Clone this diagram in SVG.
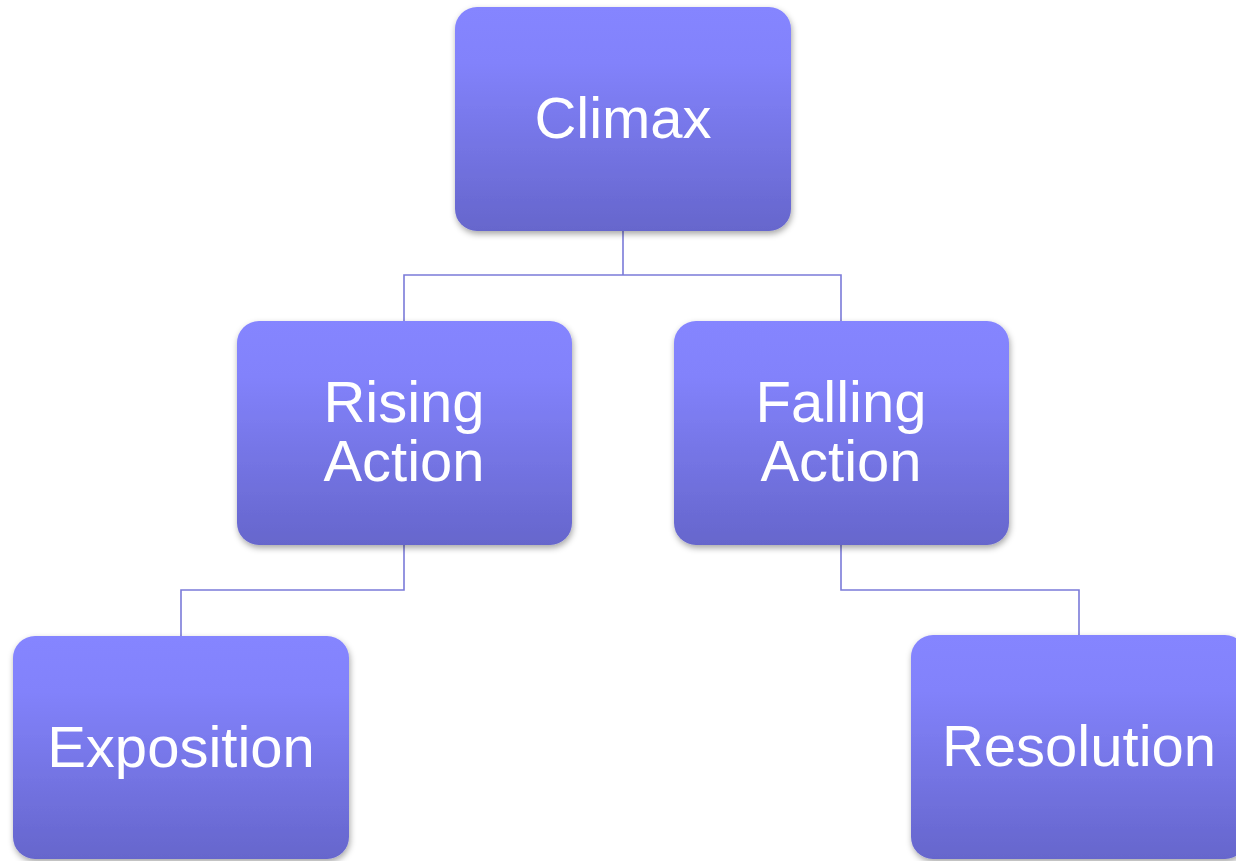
<svg xmlns="http://www.w3.org/2000/svg" width="1236" height="861" viewBox="0 0 1236 861">
<style>
.box{fill:url(#g);filter:url(#sh)}
.lbl{font-family:"Liberation Sans",Arial,sans-serif;font-size:58px;fill:#ffffff;text-anchor:middle}
.conn{fill:none;stroke:#7b7bd9;stroke-width:1.6}
</style>
<defs>
<linearGradient id="g" x1="0" y1="0" x2="0" y2="1">
<stop offset="0" stop-color="#8585ff"/>
<stop offset="0.25" stop-color="#8282fb"/>
<stop offset="1" stop-color="#6666cc"/>
</linearGradient>
<filter id="sh" x="-10%" y="-10%" width="125%" height="125%">
<feDropShadow dx="1" dy="3" stdDeviation="3" flood-color="#000" flood-opacity="0.35"/>
</filter>
</defs>
<rect width="1236" height="861" fill="#ffffff"/>
<g id="connectors">
<path class="conn" d="M623,231 V275 M404,321 V275 H841 V321"/>
<path class="conn" d="M404,545 V590 H181 V636"/>
<path class="conn" d="M841,545 V590 H1079 V635"/>
</g>
<g id="climax">
<rect class="box" x="455" y="7" width="336" height="224" rx="22"/>
<text class="lbl" x="623" y="138">Climax</text>
</g>
<g id="rising">
<rect class="box" x="237" y="321" width="335" height="224" rx="22"/>
<text class="lbl"><tspan x="404" y="422">Rising</tspan><tspan x="404" y="481">Action</tspan></text>
</g>
<g id="falling">
<rect class="box" x="674" y="321" width="335" height="224" rx="22"/>
<text class="lbl"><tspan x="841" y="422">Falling</tspan><tspan x="841" y="481">Action</tspan></text>
</g>
<g id="exposition">
<rect class="box" x="13" y="636" width="336" height="223" rx="22"/>
<text class="lbl" x="181" y="767">Exposition</text>
</g>
<g id="resolution">
<rect class="box" x="911" y="635" width="336" height="224" rx="22"/>
<text class="lbl" x="1079" y="766">Resolution</text>
</g>
</svg>
